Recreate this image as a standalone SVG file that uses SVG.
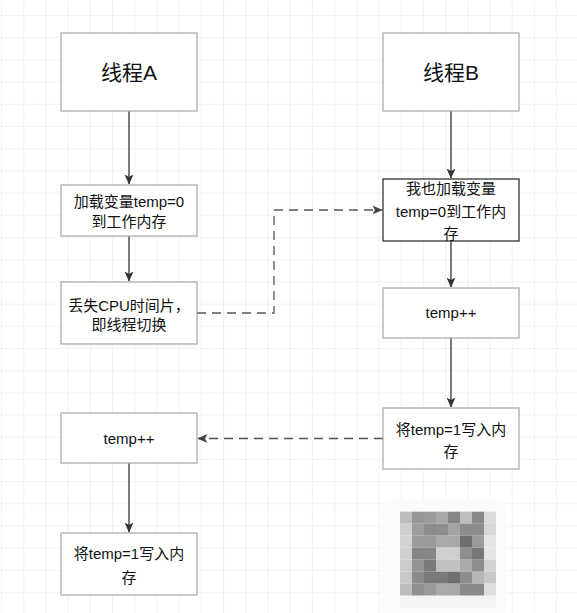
<svg xmlns="http://www.w3.org/2000/svg" width="577" height="613" viewBox="0 0 577 613">
<style>
.box{fill:#fff;stroke:#a6a6a6;stroke-width:1.2}
.boxd{fill:#fff;stroke:#333;stroke-width:1.3}
.t{font-family:"Liberation Sans","Noto Sans CJK SC",sans-serif;font-size:15px;fill:#111;text-anchor:middle;dominant-baseline:central}
.tl{font-size:21px}
.c{fill:none;stroke:#333;stroke-width:1.3}
.d{fill:none;stroke:#555;stroke-width:1.3;stroke-dasharray:9 6}
</style>
<defs>
<pattern id="grid" x="1.1" y="15" width="22.2" height="22.2" patternUnits="userSpaceOnUse">
<path d="M0,0 H22.2 M0,0 V22.2" fill="none" stroke="#e8e8e8" stroke-width="1.2"/>
</pattern>
<marker id="ah" markerWidth="10" markerHeight="10" refX="9.5" refY="5" orient="auto" markerUnits="userSpaceOnUse">
<path d="M0,0.5 L10,5 L0,9.5 L2.5,5 z" fill="#333"/>
</marker>
<marker id="ahd" markerWidth="10" markerHeight="10" refX="9.5" refY="5" orient="auto" markerUnits="userSpaceOnUse">
<path d="M0,0.5 L10,5 L0,9.5 L2.5,5 z" fill="#444"/>
</marker>
</defs>
<rect width="577" height="613" fill="#fff"/>
<rect width="577" height="613" fill="url(#grid)"/>

<g id="connectors">
<line class="c" x1="129" y1="111" x2="129" y2="184" marker-end="url(#ah)"/>
<line class="c" x1="129" y1="236" x2="129" y2="281" marker-end="url(#ah)"/>
<polyline class="d" points="197,313 274,313 274,210 382,210" marker-end="url(#ahd)"/>
<line class="c" x1="451" y1="111" x2="451" y2="178" marker-end="url(#ah)"/>
<line class="c" x1="451" y1="241" x2="451" y2="287" marker-end="url(#ah)"/>
<line class="c" x1="451" y1="338" x2="451" y2="407" marker-end="url(#ah)"/>
<line class="d" x1="383" y1="438.5" x2="198" y2="438.5" marker-end="url(#ahd)"/>
<line class="c" x1="129" y1="463" x2="129" y2="532" marker-end="url(#ah)"/>
</g>

<g id="threadA">
<rect class="box" x="61" y="33" width="136" height="78"/>
<text class="t tl" x="129" y="72">线程A</text>
</g>
<g id="loadA">
<rect class="box" x="61" y="185" width="136" height="51"/>
<text class="t" x="129" y="201.5">加载变量temp=0</text>
<text class="t" x="129" y="221.5">到工作内存</text>
</g>
<g id="lostCPU">
<rect class="box" x="61" y="282" width="136" height="62"/>
<text class="t" x="129" y="305">丢失CPU时间片，</text>
<text class="t" x="129" y="324">即线程切换</text>
</g>
<g id="incA">
<rect class="box" x="61" y="413" width="136" height="50"/>
<text class="t" x="129" y="438">temp++</text>
</g>
<g id="writeA">
<rect class="box" x="61" y="533" width="136" height="62"/>
<text class="t" x="129" y="553.5">将temp=1写入内</text>
<text class="t" x="129" y="577">存</text>
</g>

<g id="threadB">
<rect class="box" x="383" y="33" width="136" height="78"/>
<text class="t tl" x="451" y="72">线程B</text>
</g>
<g id="loadB">
<rect class="boxd" x="383" y="179" width="136" height="62"/>
<text class="t" x="451" y="188">我也加载变量</text>
<text class="t" x="451" y="211">temp=0到工作内</text>
<text class="t" x="451" y="233">存</text>
</g>
<g id="incB">
<rect class="box" x="383" y="288" width="136" height="50"/>
<text class="t" x="451" y="312.5">temp++</text>
</g>
<g id="writeB">
<rect class="box" x="383" y="408" width="136" height="61"/>
<text class="t" x="451" y="429">将temp=1写入内</text>
<text class="t" x="451" y="451">存</text>
</g>

<g id="blur">
<rect x="381" y="499" width="126" height="120" rx="14" fill="#fbfbfb"/>
<g>
<rect x="400" y="511.7" width="12" height="12" fill="#bcbcbc"/><rect x="412" y="511.7" width="12" height="12" fill="#969696"/><rect x="424" y="511.7" width="12" height="12" fill="#9c9c9c"/><rect x="436" y="511.7" width="12" height="12" fill="#a8a8a8"/><rect x="448" y="511.7" width="12" height="12" fill="#858585"/><rect x="460" y="511.7" width="12" height="12" fill="#bdbdbd"/><rect x="472" y="511.7" width="12" height="12" fill="#898989"/><rect x="484" y="511.7" width="12" height="12" fill="#dcdcdc"/>
<rect x="400" y="523.7" width="12" height="12" fill="#cfcfcf"/><rect x="412" y="523.7" width="12" height="12" fill="#9e9e9e"/><rect x="424" y="523.7" width="12" height="12" fill="#8c8c8c"/><rect x="436" y="523.7" width="12" height="12" fill="#8e8e8e"/><rect x="448" y="523.7" width="12" height="12" fill="#a4a4a4"/><rect x="460" y="523.7" width="12" height="12" fill="#8c8c8c"/><rect x="472" y="523.7" width="12" height="12" fill="#8c8c8c"/><rect x="484" y="523.7" width="12" height="12" fill="#d8d8d8"/>
<rect x="400" y="535.7" width="12" height="12" fill="#d4d4d4"/><rect x="412" y="535.7" width="12" height="12" fill="#9c9c9c"/><rect x="424" y="535.7" width="12" height="12" fill="#9a9a9a"/><rect x="436" y="535.7" width="12" height="12" fill="#a9a9a9"/><rect x="448" y="535.7" width="12" height="12" fill="#a8a8a8"/><rect x="460" y="535.7" width="12" height="12" fill="#6e6e6e"/><rect x="472" y="535.7" width="12" height="12" fill="#9a9a9a"/><rect x="484" y="535.7" width="12" height="12" fill="#e4e4e4"/>
<rect x="400" y="547.7" width="12" height="12" fill="#d0d0d0"/><rect x="412" y="547.7" width="12" height="12" fill="#858585"/><rect x="424" y="547.7" width="12" height="12" fill="#868686"/><rect x="436" y="547.7" width="12" height="12" fill="#cfcfcf"/><rect x="448" y="547.7" width="12" height="12" fill="#cfcfcf"/><rect x="460" y="547.7" width="12" height="12" fill="#8e8e8e"/><rect x="472" y="547.7" width="12" height="12" fill="#777777"/><rect x="484" y="547.7" width="12" height="12" fill="#e6e6e6"/>
<rect x="400" y="559.7" width="12" height="12" fill="#cbcbcb"/><rect x="412" y="559.7" width="12" height="12" fill="#949494"/><rect x="424" y="559.7" width="12" height="12" fill="#7a7a7a"/><rect x="436" y="559.7" width="12" height="12" fill="#c1c1c1"/><rect x="448" y="559.7" width="12" height="12" fill="#c2c2c2"/><rect x="460" y="559.7" width="12" height="12" fill="#a9a9a9"/><rect x="472" y="559.7" width="12" height="12" fill="#8d8d8d"/><rect x="484" y="559.7" width="12" height="12" fill="#d3d3d3"/>
<rect x="400" y="571.7" width="12" height="12" fill="#c9c9c9"/><rect x="412" y="571.7" width="12" height="12" fill="#8c8c8c"/><rect x="424" y="571.7" width="12" height="12" fill="#7a7a7a"/><rect x="436" y="571.7" width="12" height="12" fill="#7a7a7a"/><rect x="448" y="571.7" width="12" height="12" fill="#6e6e6e"/><rect x="460" y="571.7" width="12" height="12" fill="#8d8d8d"/><rect x="472" y="571.7" width="12" height="12" fill="#b6b6b6"/><rect x="484" y="571.7" width="12" height="12" fill="#c8c8c8"/>
<rect x="400" y="583.7" width="12" height="12" fill="#bcbcbc"/><rect x="412" y="583.7" width="12" height="12" fill="#8f8f8f"/><rect x="424" y="583.7" width="12" height="12" fill="#9a9a9a"/><rect x="436" y="583.7" width="12" height="12" fill="#a9a9a9"/><rect x="448" y="583.7" width="12" height="12" fill="#a7a7a7"/><rect x="460" y="583.7" width="12" height="12" fill="#8a8a8a"/><rect x="472" y="583.7" width="12" height="12" fill="#8a8a8a"/><rect x="484" y="583.7" width="12" height="12" fill="#dedede"/>
<rect x="400" y="595.7" width="96" height="12" fill="#f4f4f4"/>
</g>
</g>
</svg>
